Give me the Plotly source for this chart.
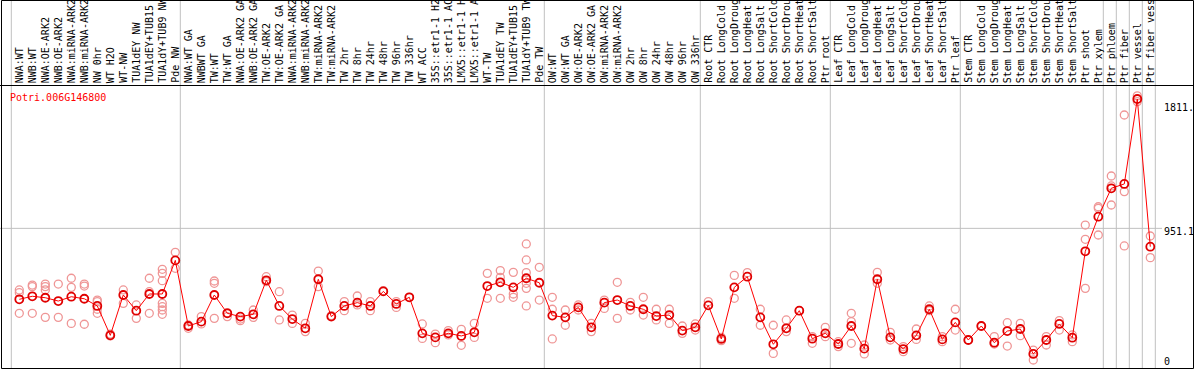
import plotly.graph_objects as go

W, H = 1194, 370

labels = ["NWA:WT", "NWB:WT", "NWA:OE-ARK2", "NWB:OE-ARK2", "NWA:miRNA-ARK2", "NWB:miRNA-ARK2",
          "NW 0hr", "WT H2O", "WT-NW", "TUA1dEY NW", "TUA1dEY+TUB15", "TUA1dY+TUB9 NW", "Pde NW",
          "NWA:WT GA", "NWBWT GA", "TW:WT", "TW:WT GA", "NWA:OE-ARK2 GA", "NWB:OE-ARK2 GA",
          "TW:OE-ARK2", "TW:OE-ARK2 GA", "NWA:miRNA-ARK2", "NWB:miRNA-ARK2", "TW:miRNA-ARK2",
          "TW:miRNA-ARK2", "TW 2hr", "TW 8hr", "TW 24hr", "TW 48hr", "TW 96hr", "TW 336hr",
          "WT ACC", "35S::etr1-1 H2", "35S::etr1-1 AC", "LMX5::etr1-1 H", "LMX5::etr1-1 A",
          "WT-TW", "TUA1dEY TW", "TUA1dEY+TUB15", "TUA1dY+TUB9 TW", "Pde TW",
          "OW:WT", "OW:WT GA", "OW:OE-ARK2", "OW:OE-ARK2 GA", "OW:miRNA-ARK2", "OW:miRNA-ARK2",
          "OW 2hr", "OW 8hr", "OW 24hr", "OW 48hr", "OW 96hr", "OW 336hr",
          "Root CTR", "Root LongCold", "Root LongDroug", "Root LongHeat", "Root LongSalt",
          "Root ShortCold", "Root ShortDrou", "Root ShortHeat", "Root ShortSalt", "Ptr root",
          "Leaf CTR", "Leaf LongCold", "Leaf LongDroug", "Leaf LongHeat", "Leaf LongSalt",
          "Leaf ShortCold", "Leaf ShortDrou", "Leaf ShortHeat", "Leaf ShortSalt", "Ptr leaf",
          "Stem CTR", "Stem LongCold", "Stem LongDroug", "Stem LongHeat", "Stem LongSalt",
          "Stem ShortCold", "Stem ShortDrou", "Stem ShortHeat", "Stem ShortSalt",
          "Ptr shoot", "Ptr xylem", "Ptr phloem", "Ptr fiber", "Ptr vessel", "Ptr fiber vess"]

means = [459, 480, 470, 447, 477, 463, 413, 209, 489, 380, 496, 496, 729, 274, 304, 489, 362, 339,
         355, 591, 413, 322, 258, 598, 339, 413, 436, 413, 514, 427,
         473, 223, 195, 223, 205, 230, 551, 577, 542, 605, 574, 346, 334, 403, 265, 436, 454, 413,
         390, 343, 350, 242, 265, 417, 184, 542, 616, 334, 147, 258,
         380, 186, 223, 149, 274, 117, 598, 195, 114, 209, 390, 181, 299, 177, 274, 158, 239, 253,
         80, 177, 288, 193, 792, 1032, 1229, 1259, 1848, 824]

replicates = [
    [524, 505, 362], [558, 547, 362], [565, 547, 524, 334], [565, 334], [605, 542, 292],
    [565, 551, 286], [454, 443, 390, 362], [218, 205], [524, 431], [420, 327],
    [605, 512, 362], [667, 639, 588, 431, 408, 385, 355], [785, 674], [258, 281], [339, 288],
    [586, 570, 327], [366, 339], [322, 311], [385, 334], [616, 581],
    [512, 316], [350, 292], [292, 235], [655, 547], [346],
    [443, 380], [482, 420], [443, 380], [519], [443, 403],
    [473], [288, 188], [218, 158], [242, 212], [251, 140],
    [292, 195], [639, 466], [658, 611, 466], [646, 496, 473], [843, 732, 644, 570, 535, 413],
    [681, 454], [473, 390, 184], [385, 279], [420, 385], [292, 235],
    [454, 396], [577, 327], [438, 385], [473, 350], [390, 316],
    [390, 292], [274, 223], [288, 246], [443], [195, 172],
    [625, 466], [644], [390, 279], [279, 84], [316, 235],
    [380], [154, 200], [265, 200], [165, 131], [362, 304, 154],
    [142, 80], [646, 570], [230, 177], [131, 96], [253, 181],
    [413, 380], [200, 165], [390, 246], [177], [274],
    [200, 149], [297, 135], [292, 207], [107, 38], [200, 142],
    [311, 246], [212, 165], [974, 875, 535], [1101, 1090, 905], [1314, 1245, 1113],
    [1737, 1206, 829], [1870, 1830], [898, 748],
]

group_ends = [-1, 12, 40, 52, 62, 72, 83, 84, 85, 86, 87]
tick_vals = [1811, 951.1, 0]
tick_text = ["1811.", "951.1", "0"]
title = "Potri.006G146800"

FONT = "DejaVu Sans Mono"

# pixel geometry helpers (layout only)
def px_x(p):
    return p / W

def px_y(p):
    return 1 - p / H

x_idx = list(range(len(labels)))
rx, ry = [], []
for i, vals in enumerate(replicates):
    for v in vals:
        rx.append(i)
        ry.append(v)

fig = go.Figure()
fig.add_trace(go.Scatter(
    x=rx, y=ry, mode="markers",
    marker=dict(symbol="circle-open", size=8, color="#ef9696", line=dict(width=1.3)),
    hoverinfo="skip", showlegend=False))
fig.add_trace(go.Scatter(
    x=x_idx, y=means, mode="lines+markers",
    line=dict(color="#ff0000", width=1),
    marker=dict(symbol="circle-open", size=8, color="#e00000", line=dict(width=1.8)),
    showlegend=False))

# y scale: 0 at 365.5px, 0.1442 px per unit; plot area 86..368 px
y_top_px, y_bot_px = 86, 368
zero_px, ppu = 365.5, 0.1442
y_lo = -(y_bot_px - zero_px) / ppu
y_hi = (zero_px - y_top_px) / ppu
# x scale: index i at 19.3 + 13 i px, plot area 0..1160 px
x_right_px = 1160
x_lo = -19.3 / 13
x_hi = (x_right_px - 19.3) / 13

shapes = []
for g in group_ends:
    shapes.append(dict(type="line", xref="x", yref="paper", x0=g + 0.385, x1=g + 0.385,
                       y0=px_y(368), y1=1, line=dict(color="#c0c0c0", width=1), layer="below"))
shapes.append(dict(type="line", xref="paper", yref="y", x0=0, x1=px_x(1162), y0=951.1, y1=951.1,
                   line=dict(color="#c0c0c0", width=1), layer="below"))
# frame and separator
shapes.append(dict(type="rect", xref="paper", yref="paper", x0=px_x(1.5), x1=px_x(1193.5),
                   y0=px_y(368.5), y1=px_y(0.5), line=dict(color="black", width=1)))
shapes.append(dict(type="line", xref="paper", yref="paper", x0=0, x1=1, y0=px_y(85.5), y1=px_y(85.5),
                   line=dict(color="black", width=1)))

annotations = []
for i, lab in enumerate(labels):
    annotations.append(dict(x=i, xref="x", y=px_y(84), yref="paper", text=lab, showarrow=False,
                            textangle=-90, xanchor="center", yanchor="bottom", borderpad=0,
                            font=dict(family=FONT, size=10, color="black")))
label_pos_px = [107.7, 231.7, 361.7]
for t, py in zip(tick_text, label_pos_px):
    annotations.append(dict(x=px_x(1163), xref="paper", y=px_y(py), yref="paper", text=t,
                            showarrow=False, xanchor="left", yanchor="middle", borderpad=0,
                            font=dict(family=FONT, size=10, color="black")))
annotations.append(dict(x=px_x(9), xref="paper", y=px_y(97), yref="paper", text=title,
                        showarrow=False, xanchor="left", yanchor="middle", borderpad=0,
                        font=dict(family=FONT, size=10, color="#ff0000")))

fig.update_layout(
    width=W, height=H, margin=dict(l=0, r=0, t=0, b=0),
    paper_bgcolor="white", plot_bgcolor="white",
    xaxis=dict(domain=[0, px_x(x_right_px)], range=[x_lo, x_hi], visible=False),
    yaxis=dict(domain=[px_y(y_bot_px), px_y(y_top_px)], range=[y_lo, y_hi], visible=False),
    shapes=shapes, annotations=annotations,
)

fig.write_html("out.html", config={"displayModeBar": False},
               post_script="document.body.style.margin='0';")
